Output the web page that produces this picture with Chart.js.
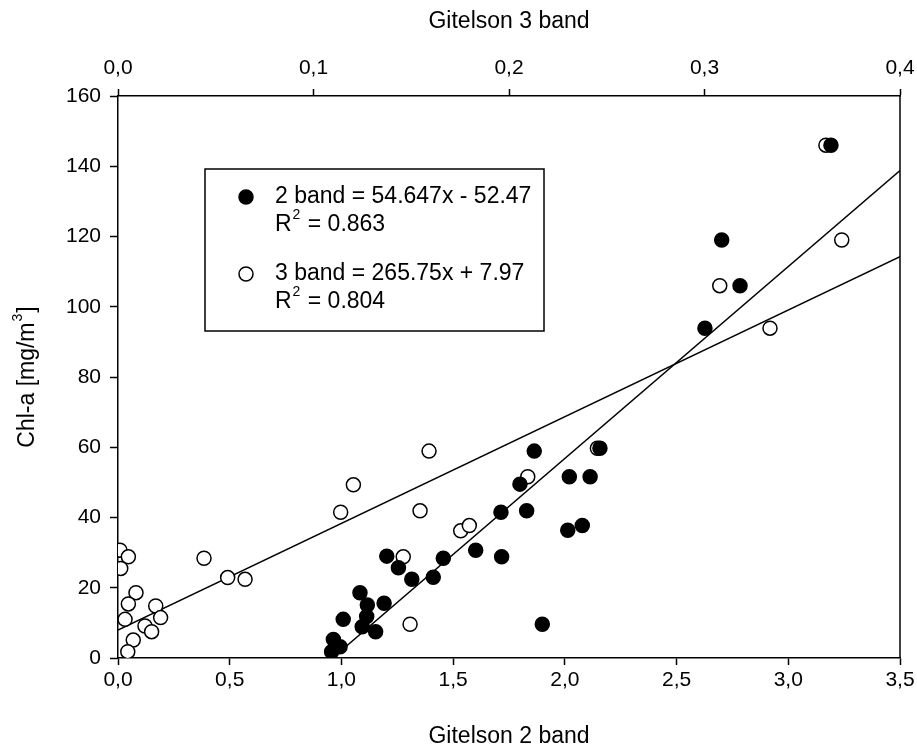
<!DOCTYPE html>
<html>
<head>
<meta charset="utf-8">
<script src="https://cdn.jsdelivr.net/npm/chart.js@4/dist/chart.umd.min.js"></script>
<style>
  body { margin: 0; background: #fff; }
</style>
</head>
<body>
<canvas id="chlChart" width="917" height="748"></canvas>
<script>
// Gitelson 2 band index vs Chl-a
const twoBandX = [3.191, 2.702, 2.784, 2.627, 1.863, 2.157, 2.020, 2.113, 1.799, 1.714,
    1.829, 2.013, 2.078, 1.203, 1.601, 1.717, 1.255, 1.456, 1.315, 1.411,
    1.083, 1.116, 1.191, 1.008, 1.113, 1.093, 1.153, 1.899, 0.964, 0.994, 0.956];
const twoBandY = [146.0, 119.0, 106.0, 93.9, 58.9, 59.7, 51.6, 51.6, 49.5, 41.5,
    41.9, 36.4, 37.7, 29.0, 30.7, 28.8, 25.7, 28.4, 22.4, 23.0,
    18.6, 15.1, 15.6, 11.0, 11.8, 8.9, 7.5, 9.6, 5.3, 3.2, 1.8];

// Gitelson 3 band index vs Chl-a
const threeBandX = [0.0010, 0.0053, 0.0014, 0.0440, 0.0561, 0.0650, 0.0092, 0.0053, 0.0193, 0.0218,
    0.0036, 0.0138, 0.0172, 0.0078, 0.0050, 0.1591, 0.1204, 0.2096, 0.1139, 0.1545,
    0.1753, 0.1797, 0.1459, 0.1494, 0.2452, 0.3078, 0.3335, 0.3702, 0.3621];
const threeBandY = [30.7, 28.8, 25.5, 28.4, 22.9, 22.4, 18.6, 15.4, 14.8, 11.5,
    11.0, 9.1, 7.5, 5.1, 1.8, 58.9, 49.3, 51.6, 41.5, 41.9,
    36.2, 37.7, 28.8, 9.6, 59.7, 106.0, 93.9, 119.0, 146.0];

// regression fits
const twoBandFit = { slope: 54.647, intercept: -52.47, r2: 0.863 };
const threeBandFit = { slope: 265.75, intercept: 7.97, r2: 0.804 };

const xTicks2 = [0, 0.5, 1, 1.5, 2, 2.5, 3, 3.5];
const xTicks3 = [0, 0.1, 0.2, 0.3, 0.4];
const yTicks = [0, 20, 40, 60, 80, 100, 120, 140, 160];

const toPoints = (xs, ys) => xs.map((x, i) => ({ x: x, y: ys[i] }));
const comma = v => v.toFixed(1).replace('.', ',');

const twoBandStart = -twoBandFit.intercept / twoBandFit.slope;
const twoBandLine = [twoBandStart, xTicks2[xTicks2.length - 1]].map(x => ({ x: x, y: twoBandFit.slope * x + twoBandFit.intercept }));
const threeBandLine = [xTicks3[0], xTicks3[xTicks3.length - 1]].map(x => ({ x: x, y: threeBandFit.slope * x + threeBandFit.intercept }));

const FONT = 'Liberation Sans, Arial, sans-serif';
const TICK_SIZE = 21;
const TITLE_SIZE = 23;
const SUP_SIZE = 14;

// writes base + superscript + tail starting at x, y (left/middle aligned)
function supText(ctx, x, y, base, sup, tail) {
    ctx.font = TITLE_SIZE + 'px ' + FONT;
    ctx.fillText(base, x, y);
    x += ctx.measureText(base).width + 1;
    ctx.font = SUP_SIZE + 'px ' + FONT;
    ctx.fillText(sup, x, y - 10);
    x += ctx.measureText(sup).width + 1;
    ctx.font = TITLE_SIZE + 'px ' + FONT;
    ctx.fillText(tail, x, y);
    return x + ctx.measureText(tail).width;
}

// right-hand frame line, y axis title and the equation box
const framePlugin = {
    id: 'frame',
    afterDraw(chart) {
        const ctx = chart.ctx;
        const a = chart.chartArea;
        ctx.save();
        ctx.strokeStyle = '#000';
        ctx.lineWidth = 1.5;
        ctx.beginPath();
        ctx.moveTo(a.right, a.top);
        ctx.lineTo(a.right, a.bottom);
        ctx.stroke();

        // y title, rotated, with a real superscript
        ctx.fillStyle = '#000';
        ctx.textBaseline = 'middle';
        ctx.textAlign = 'left';
        ctx.font = TITLE_SIZE + 'px ' + FONT;
        const base = 'Chl-a [mg/m', tail = ']';
        const w = ctx.measureText(base).width + ctx.measureText(tail).width + 2 +
            (ctx.font = SUP_SIZE + 'px ' + FONT, ctx.measureText('3').width);
        ctx.save();
        ctx.translate(28, (a.top + a.bottom) / 2);
        ctx.rotate(-Math.PI / 2);
        supText(ctx, -w / 2, 0, base, '3', tail);
        ctx.restore();

        const bx = a.left + 87, by = a.top + 73, bw = 339, bh = 162;
        ctx.fillStyle = '#fff';
        ctx.fillRect(bx, by, bw, bh);
        ctx.strokeRect(bx, by, bw, bh);

        const mx = bx + 41, tx = bx + 70;
        const rows = [
            { y: by + 28, filled: true, fit: twoBandFit, text: '2 band = ' + twoBandFit.slope + 'x - ' + Math.abs(twoBandFit.intercept) },
            { y: by + 105, filled: false, fit: threeBandFit, text: '3 band = ' + threeBandFit.slope + 'x + ' + threeBandFit.intercept }
        ];
        rows.forEach(r => {
            ctx.beginPath();
            ctx.arc(mx, r.y, 7, 0, Math.PI * 2);
            ctx.fillStyle = r.filled ? '#000' : '#fff';
            ctx.fill();
            ctx.lineWidth = 1.5;
            ctx.stroke();

            ctx.fillStyle = '#000';
            ctx.font = TITLE_SIZE + 'px ' + FONT;
            ctx.fillText(r.text, tx, r.y);
            supText(ctx, tx, r.y + 28, 'R', '2', ' = ' + r.fit.r2.toFixed(3));
        });
        ctx.restore();
    }
};

// keep the horizontal axes from pushing the plot edges inwards
const noSidePadding = s => { s.paddingLeft = 0; s.paddingRight = 0; };

const ctx = document.getElementById('chlChart').getContext('2d');
new Chart(ctx, {
    type: 'scatter',
    data: {
        datasets: [{
            label: '2 band',
            data: toPoints(twoBandX, twoBandY),
            xAxisID: 'x',
            pointRadius: 7,
            pointBackgroundColor: '#000',
            pointBorderColor: '#000',
            pointBorderWidth: 1.5
        }, {
            label: '3 band',
            data: toPoints(threeBandX, threeBandY),
            xAxisID: 'x2',
            pointRadius: 7,
            pointBackgroundColor: '#fff',
            pointBorderColor: '#000',
            pointBorderWidth: 1.5
        }, {
            type: 'line',
            label: '2 band fit',
            data: twoBandLine,
            xAxisID: 'x',
            borderColor: '#000',
            borderWidth: 1.5,
            pointRadius: 0,
            fill: false
        }, {
            type: 'line',
            label: '3 band fit',
            data: threeBandLine,
            xAxisID: 'x2',
            borderColor: '#000',
            borderWidth: 1.5,
            pointRadius: 0,
            fill: false
        }]
    },
    options: {
        responsive: false,
        animation: false,
        layout: { padding: { right: 17 } },
        plugins: {
            legend: { display: false },
            tooltip: { enabled: false }
        },
        scales: {
            x: {
                type: 'linear',
                position: 'bottom',
                min: 0,
                max: 3.5,
                afterBuildTicks: s => { s.ticks = xTicks2.map(v => ({ value: v })); },
                afterFit: s => { s.height = 90; noSidePadding(s); },
                ticks: { color: '#000', font: { family: FONT, size: TICK_SIZE }, padding: 3, maxRotation: 0, callback: v => comma(v) },
                grid: { drawOnChartArea: false, tickLength: 7, tickColor: '#000', tickWidth: 1.5 },
                border: { color: '#000', width: 1.5 },
                title: { display: true, text: 'Gitelson 2 band', color: '#000', font: { family: FONT, size: TITLE_SIZE, lineHeight: 1 }, padding: { top: 0, bottom: 0 } }
            },
            x2: {
                type: 'linear',
                position: 'top',
                min: 0,
                max: 0.4,
                afterBuildTicks: s => { s.ticks = xTicks3.map(v => ({ value: v })); },
                afterFit: s => { s.height = 96; noSidePadding(s); },
                ticks: { color: '#000', font: { family: FONT, size: TICK_SIZE }, padding: 8, maxRotation: 0, callback: v => comma(v) },
                grid: { drawOnChartArea: false, tickLength: 7, tickColor: '#000', tickWidth: 1.5 },
                border: { color: '#000', width: 1.5 },
                title: { display: true, text: 'Gitelson 3 band', color: '#000', font: { family: FONT, size: TITLE_SIZE, lineHeight: 1 }, padding: { top: 10, bottom: 0 } }
            },
            y: {
                min: 0,
                max: 160,
                afterBuildTicks: s => { s.ticks = yTicks.map(v => ({ value: v })); },
                afterFit: s => { s.width = 118; },
                ticks: { color: '#000', font: { family: FONT, size: TICK_SIZE }, padding: 9 },
                grid: { drawOnChartArea: false, tickLength: 8, tickColor: '#000', tickWidth: 1.5 },
                border: { color: '#000', width: 1.5 }
            }
        }
    },
    plugins: [framePlugin]
});
</script>
</body>
</html>
